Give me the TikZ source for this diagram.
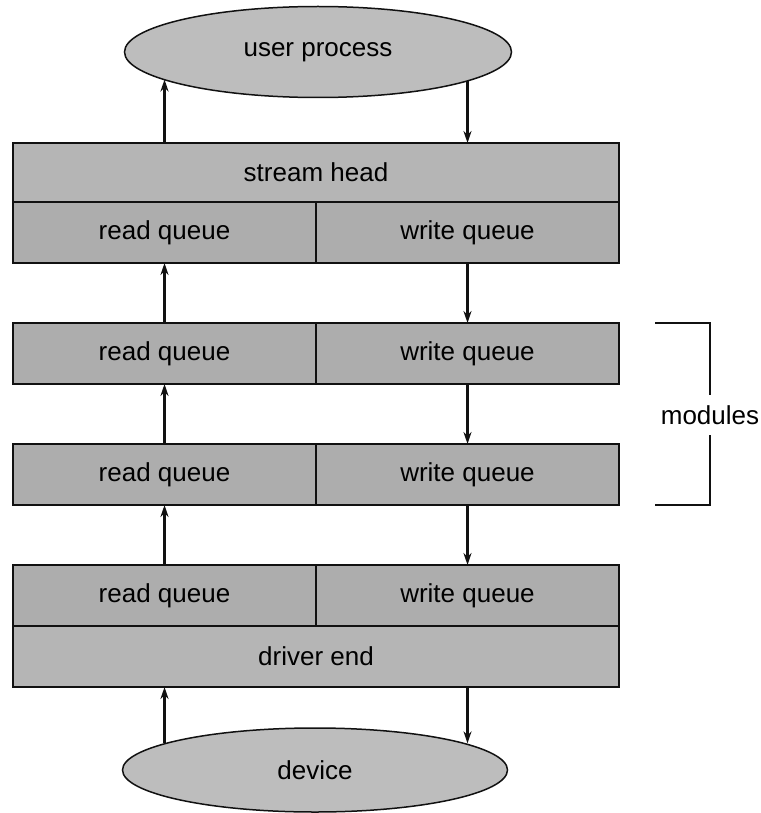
\documentclass[tikz,border=0pt]{standalone}
\usepackage{fontspec}
\setmainfont{Liberation Sans}
\usepackage{tikz}
\usetikzlibrary{arrows.meta,positioning,shapes.geometric}
\definecolor{inkline}{HTML}{111111}
\definecolor{dotgray}{HTML}{ADADAD}
\definecolor{streakgray}{HTML}{B5B5B5}
\definecolor{blobgray}{HTML}{BDBDBD}
\begin{document}
\begin{tikzpicture}[x=1pt,y=-1pt,
  font=\fontsize{26}{30}\selectfont,
  queue/.style={draw=inkline,fill=dotgray,line width=1.5pt,minimum width=303pt,minimum height=61pt,inner sep=0pt,outer sep=0pt},
  band/.style={draw=inkline,fill=streakgray,line width=1.5pt,minimum width=606pt,minimum height=61pt,inner sep=0pt,outer sep=0pt},
  blob/.style={ellipse,draw=inkline,fill=blobgray,line width=1.5pt,inner sep=0pt},
  arr/.style={-{Stealth[length=12pt,width=8pt]},line width=2.2pt,inkline}]
\useasboundingbox (0,0) rectangle (760,813);
\node[blob,minimum width=387pt,minimum height=91pt] (up) at (318,52) {user process};
\node[band,minimum height=59pt] (head) at (316,172.5) {stream head};
\node[queue,below right=0pt and 0pt of head.south west] (hr) {read queue};
\node[queue,right=0pt of hr] (hw) {write queue};
\node[queue,below=60pt of hr] (m1r) {read queue};
\node[queue,right=0pt of m1r] (m1w) {write queue};
\node[queue,below=60pt of m1r] (m2r) {read queue};
\node[queue,right=0pt of m2r] (m2w) {write queue};
\node[queue,below=60pt of m2r] (dr) {read queue};
\node[queue,right=0pt of dr] (dw) {write queue};
\node[band,below right=0pt and 0pt of dr.south west] (dend) {driver end};
\node[blob,minimum width=385pt,minimum height=84pt] (dev) at (315,770) {device};
% read side goes up, write side goes down
\draw[arr] (hr |- head.north) -- (hr |- up.190);
\draw[arr] (hw |- up.-11) -- (hw |- head.north);
\foreach \lo/\hi in {m1r/hr,m2r/m1r,dr/m2r} \draw[arr] (\lo) -- (\hi);
\foreach \hi/\lo in {hw/m1w,m1w/m2w,m2w/dw} \draw[arr] (\hi) -- (\lo);
\draw[arr] (hr |- dev.170) -- (hr |- dend.south);
\draw[arr] (hw |- dend.south) -- (hw |- dev.10);
% bracket
\node[minimum height=40pt,inner sep=0pt] (mods) at (710,415) {modules};
\draw[line width=1.8pt,inkline] (mods.north) -- (mods.north |- m1w.north) -- ++(-55,0);
\draw[line width=1.8pt,inkline] (mods.south) -- (mods.south |- m2w.south) -- ++(-55,0);
\end{tikzpicture}
\end{document}
